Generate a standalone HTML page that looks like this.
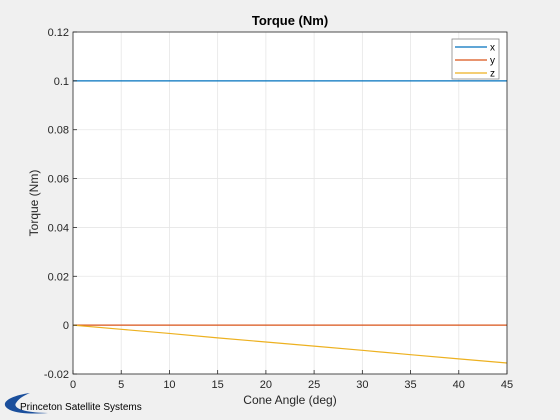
<!DOCTYPE html>
<html><head><meta charset="utf-8"><style>
body{margin:0;background:#f0f0f0;font-family:"Liberation Sans",Arial,sans-serif}
svg{display:block}
</style></head><body>
<svg width="560" height="420" xmlns="http://www.w3.org/2000/svg">
<rect width="560" height="420" fill="#f0f0f0"/>
<rect x="73" y="32" width="434" height="342" fill="#fff"/>
<g id="grid"></g>
<g id="series"></g>
<rect x="73" y="32" width="434" height="342" fill="none" stroke="#262626" stroke-width="0.8"/>
<g id="ticks" font-size="11" fill="#262626"></g>
<text x="290" y="25" text-anchor="middle" font-size="13" font-weight="bold" fill="#000">Torque (Nm)</text>
<text x="290" y="404" text-anchor="middle" font-size="12" fill="#262626">Cone Angle (deg)</text>
<text transform="translate(38,203) rotate(-90)" text-anchor="middle" font-size="12" fill="#262626">Torque (Nm)</text>
<g>
<rect x="452" y="39" width="47" height="40" fill="#fff" stroke="#888" stroke-width="0.8"/>
<g id="legend-items" font-size="10" fill="#000"></g>
</g>
<g>
<path d="M30,393 C8,396 -2,404 10,410 C18,414 35,414 48,413 C28,413 12,409 16,403 C19,398 25,395 30,393 Z" fill="#1b4f9c"/>
<text x="20" y="410" font-size="10" fill="#000">Princeton Satellite Systems</text>
</g>
</svg>
<script>
const angles=[0,5,10,15,20,25,30,35,40,45];
const xVals=[0.1,0.1,0.1,0.1,0.1,0.1,0.1,0.1,0.1,0.1];
const yVals=[0,0,0,0,0,0,0,0,0,0];
const zVals=[0,-0.0017,-0.0034,-0.0052,-0.0069,-0.0086,-0.0103,-0.0121,-0.0138,-0.0155];
const xTicks=[0,5,10,15,20,25,30,35,40,45];
const yTicks=[-0.02,0,0.02,0.04,0.06,0.08,0.1,0.12];
const yTickLabels=["-0.02","0","0.02","0.04","0.06","0.08","0.1","0.12"];
const seriesNames=["x","y","z"];
const colors=["#0072bd","#d95319","#edb120"];
const L=73,R=507,T=32,B=374;
const sx=v=>L+(v-0)/(45-0)*(R-L);
const sy=v=>B-(v+0.02)/(0.14)*(B-T);
const NS="http://www.w3.org/2000/svg";
function mk(tag,attrs,parent){const e=document.createElementNS(NS,tag);for(const k in attrs)e.setAttribute(k,attrs[k]);parent.appendChild(e);return e;}
const grid=document.getElementById('grid'),ticks=document.getElementById('ticks');
xTicks.forEach(t=>{
  const g=mk('line',{x1:sx(t),x2:sx(t),y1:T,y2:B,stroke:'#e6e6e6','stroke-width':0.8},grid);
  
  
  mk('line',{x1:sx(t),x2:sx(t),y1:B,y2:B-4,stroke:'#262626','stroke-width':0.8},ticks);
  const tx=mk('text',{x:sx(t),y:B+14,'text-anchor':'middle'},ticks);tx.textContent=t;
  
  
});
yTicks.forEach((t,i)=>{
  const g=mk('line',{x1:L,x2:R,y1:sy(t),y2:sy(t),stroke:'#e6e6e6','stroke-width':0.8},grid);
  
  
  mk('line',{x1:L,x2:L+4,y1:sy(t),y2:sy(t),stroke:'#262626','stroke-width':0.8},ticks);
  const tx=mk('text',{x:L-4,y:sy(t)+4,'text-anchor':'end'},ticks);tx.textContent=yTickLabels[i];
  
  
});
const ser=document.getElementById('series');
[xVals,yVals,zVals].forEach((vals,i)=>{
  const p=mk('polyline',{points:angles.map((a,j)=>sx(a)+','+sy(vals[j])).join(' '),fill:'none',stroke:colors[i],'stroke-width':1.2},ser);
  
  
});
const li=document.getElementById('legend-items');
seriesNames.forEach((n,i)=>{
  const y=47+i*13;
  mk('line',{x1:455,x2:487,y1:y,y2:y,stroke:colors[i],'stroke-width':1.2},li);
  const t=mk('text',{x:490,y:y+3.5},li);t.textContent=n;
  
  
});
</script>
</body></html>
